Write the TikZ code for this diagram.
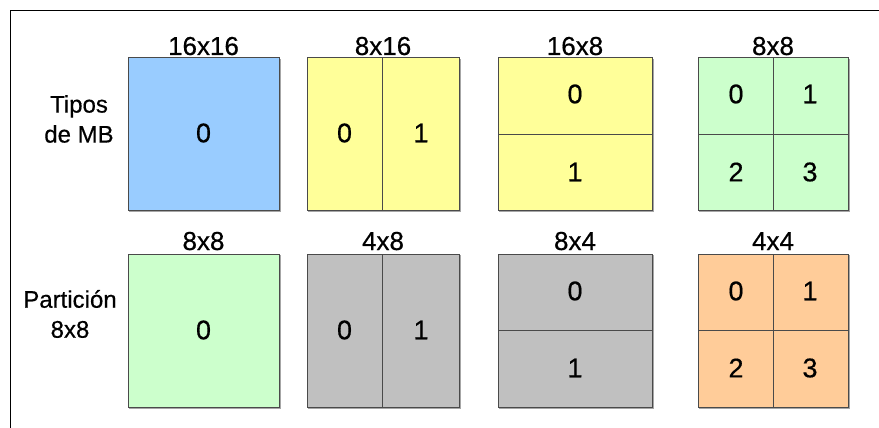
\documentclass[tikz,border=0pt]{standalone}
\usepackage{fontspec}
\setmainfont{Liberation Sans}[FakeBold=0.5]
\definecolor{cblue}{HTML}{99CCFF}
\definecolor{cyellow}{HTML}{FFFF99}
\definecolor{cgreen}{HTML}{CCFFCC}
\definecolor{cgray}{HTML}{C0C0C0}
\definecolor{corange}{HTML}{FFCC99}
\definecolor{cedge}{HTML}{4A4A4A}
\begin{document}
\begin{tikzpicture}[x=1pt,y=-1pt,
  blk/.style={draw=cedge,line width=1pt},
  shad/.style={draw=black!35,line width=1.2pt},
  divl/.style={draw=cedge,line width=0.9pt},
  txt/.style={inner sep=0pt,font=\fontsize{26}{30}\selectfont},
  num/.style={inner sep=0pt,font=\fontsize{27}{30}\selectfont},
  side/.style={inner sep=0pt,align=center,font=\fontsize{24}{30}\selectfont},
  frame/.style={draw=black,line width=1.2pt}]
\useasboundingbox (0,0) rectangle (879,428);
\draw[frame] (10.5,428) -- (10.5,10.5) -- (879,10.5);

% side labels
\node[side] (l1) at (79,119) {Tipos\\de MB};
\node[side] (l2) at (70,314) {Partición\\8x8};

% box 1: 16x16
\draw[shad] (129,211) -- (280,211) -- (280,59);
\fill[cblue] (128,58) rectangle (279,210);
\draw[blk] (128,58) rectangle (279,210);
\node[num] (a0) at (203.5,133) {0};
\node[txt,anchor=base] (t1) at (203.5,55) {16x16};

% box 2: 8x16
\draw[shad] (308,211) -- (460,211) -- (460,59);
\fill[cyellow] (307,58) rectangle (459,210);
\draw[blk] (307,58) rectangle (459,210);
\draw[divl] (382.5,58) -- (382.5,210);
\node[num] (b0) at (344.5,133) {0};
\node[num] (b1) at (421,133) {1};
\node[txt,anchor=base] (t2) at (383,55) {8x16};

% box 3: 16x8
\draw[shad] (499,211) -- (653,211) -- (653,59);
\fill[cyellow] (498,58) rectangle (652,210);
\draw[blk] (498,58) rectangle (652,210);
\draw[divl] (498,134) -- (652,134);
\node[num] (c0) at (575,94) {0};
\node[num] (c1) at (575,172) {1};
\node[txt,anchor=base] (t3) at (575,55) {16x8};

% box 4: 8x8
\draw[shad] (699,211) -- (849,211) -- (849,59);
\fill[cgreen] (698,58) rectangle (848,210);
\draw[blk] (698,58) rectangle (848,210);
\draw[divl] (773,58) -- (773,210);
\draw[divl] (698,134) -- (848,134);
\node[num] (d0) at (736,94) {0};
\node[num] (d1) at (810,94) {1};
\node[num] (d2) at (736,172) {2};
\node[num] (d3) at (810,172) {3};
\node[txt,anchor=base] (t4) at (773,55) {8x8};

% row 2
\draw[shad] (129,408) -- (280,408) -- (280,255);
\fill[cgreen] (128,254) rectangle (279,407);
\draw[blk] (128,254) rectangle (279,407);
\node[num] (e0) at (203.5,330) {0};
\node[txt,anchor=base] (t5) at (203.5,250) {8x8};

\draw[shad] (308,408) -- (460,408) -- (460,255);
\fill[cgray] (307,254) rectangle (459,407);
\draw[blk] (307,254) rectangle (459,407);
\draw[divl] (382.5,254) -- (382.5,407);
\node[num] (f0) at (344.5,330) {0};
\node[num] (f1) at (421,330) {1};
\node[txt,anchor=base] (t6) at (383,250) {4x8};

\draw[shad] (499,408) -- (653,408) -- (653,255);
\fill[cgray] (498,254) rectangle (652,407);
\draw[blk] (498,254) rectangle (652,407);
\draw[divl] (498,330.5) -- (652,330.5);
\node[num] (g0) at (575,291) {0};
\node[num] (g1) at (575,368) {1};
\node[txt,anchor=base] (t7) at (575,250) {8x4};

\draw[shad] (699,408) -- (849,408) -- (849,255);
\fill[corange] (698,254) rectangle (848,407);
\draw[blk] (698,254) rectangle (848,407);
\draw[divl] (773,254) -- (773,407);
\draw[divl] (698,330.5) -- (848,330.5);
\node[num] (h0) at (736,291) {0};
\node[num] (h1) at (810,291) {1};
\node[num] (h2) at (736,368) {2};
\node[num] (h3) at (810,368) {3};
\node[txt,anchor=base] (t8) at (773,250) {4x4};
\end{tikzpicture}
\end{document}
